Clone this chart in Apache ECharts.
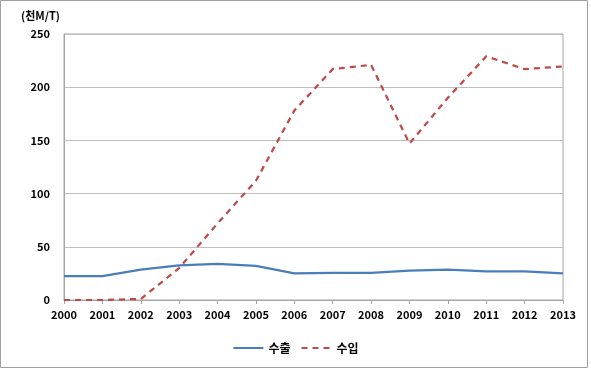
<!DOCTYPE html>
<html><head><meta charset="utf-8">
<script src="https://cdn.jsdelivr.net/npm/echarts@6/dist/echarts.min.js"></script>
<style>html,body{margin:0;padding:0;background:#fff}#c{width:591px;height:369px}</style>
</head><body><div id="c"></div>
<script>
const years = ['2000','2001','2002','2003','2004','2005','2006','2007','2008','2009','2010','2011','2012','2013'];
const exportVals = [22.5, 22.5, 28.5, 32.5, 34, 32, 25, 25.5, 25.5, 27.5, 28.5, 27, 27, 25];
const importVals = [0, 0, 1, 30, 72, 112, 178, 217, 221, 147, 190, 229, 217, 219.5];
const yTicks = { min: 0, max: 250, interval: 50 };
const unitLabel = '(천M/T)';
const seriesNames = ['수출', '수입'];

const font = '"Noto Sans CJK KR", "Noto Sans", sans-serif';
const chart = echarts.init(document.getElementById('c'), null, {renderer: 'canvas'});
chart.setOption({
  animation: false,
  grid: { left: 64, right: 28, top: 34, bottom: 69, show: true, borderColor: '#a6a6a6', borderWidth: 1 },
  graphic: [
    { type: 'rect', shape: { x: 0.5, y: 0.5, width: 587, height: 367 }, style: { fill: 'none', stroke: '#a0a0a0', lineWidth: 1 }, silent: true },
    { type: 'text', left: 21, top: 10, style: { text: unitLabel, font: 'bold 11px ' + font, fill: '#000' } }
  ],
  legend: {
    bottom: 10, left: 'center', itemWidth: 30, itemHeight: 10, itemGap: 10,
    itemStyle: { color: 'transparent', borderWidth: 0, opacity: 0 },
    textStyle: { fontFamily: font, fontWeight: 'bold', fontSize: 12, color: '#000' },
    data: seriesNames
  },
  xAxis: {
    type: 'category', data: years, boundaryGap: false,
    axisLine: { lineStyle: { color: '#a6a6a6' } },
    axisTick: { show: true, length: 4, lineStyle: { color: '#a6a6a6' } },
    axisLabel: { fontFamily: font, fontWeight: 'bold', fontSize: 11, color: '#000', margin: 9, interval: 0 }
  },
  yAxis: {
    type: 'value', min: yTicks.min, max: yTicks.max, interval: yTicks.interval,
    axisLine: { show: true, lineStyle: { color: '#a6a6a6' } },
    axisTick: { show: false },
    splitLine: { lineStyle: { color: '#bfbfbf' } },
    axisLabel: { fontFamily: font, fontWeight: 'bold', fontSize: 11, color: '#000', margin: 14 }
  },
  series: [
    { name: seriesNames[0], type: 'line', data: exportVals, symbol: 'none', smooth: false,
      lineStyle: { color: '#4a7ebb', width: 2.25 }, itemStyle: { color: '#4a7ebb' } },
    { name: seriesNames[1], type: 'line', data: importVals, symbol: 'none', smooth: false,
      lineStyle: { color: '#be4b48', width: 2.25, type: [6, 5] }, itemStyle: { color: '#be4b48' } }
  ]
});
</script></body></html>
